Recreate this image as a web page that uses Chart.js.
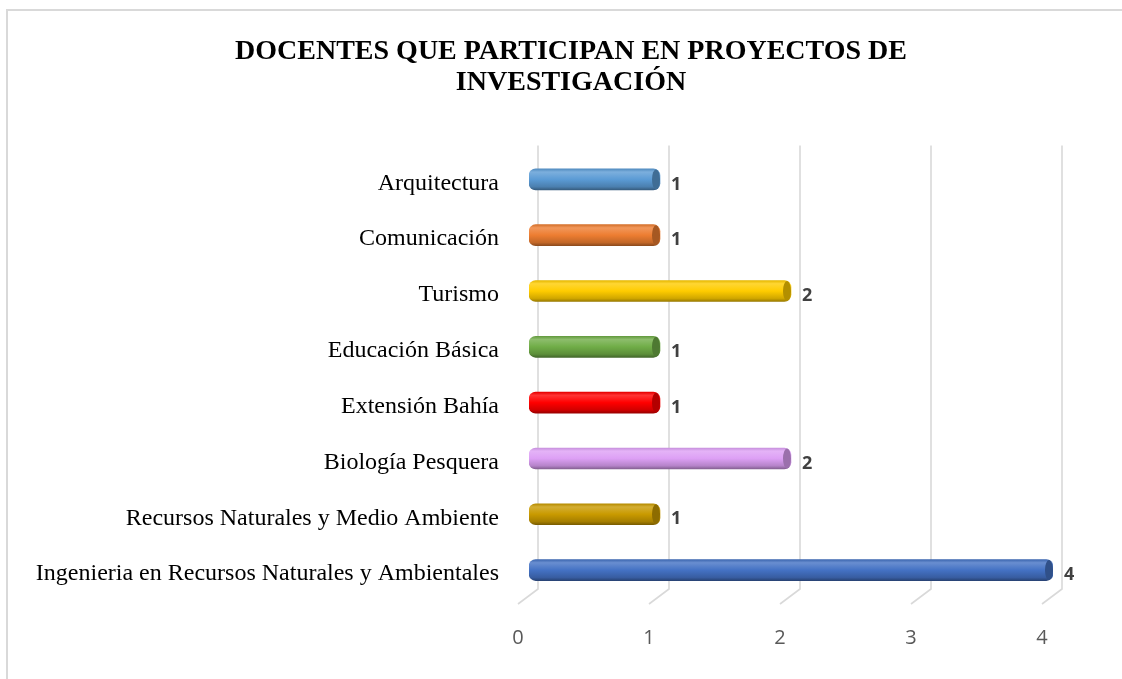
<!DOCTYPE html>
<html>
<head>
<meta charset="utf-8">
<script src="https://cdn.jsdelivr.net/npm/chart.js@4.4.0/dist/chart.umd.min.js"></script>
<style>
  html, body { margin: 0; padding: 0; background: #fff; overflow: hidden; }
  #frame { position: absolute; left: 6px; top: 9px; width: 1140px; height: 700px;
           border-top: 2px solid #d9d9d9; border-left: 2px solid #d9d9d9; }
  #wrap { position: absolute; left: 0; top: 0; width: 1122px; height: 679px; }
</style>
</head>
<body>
<div id="frame"></div>
<div id="wrap"><canvas id="chart"></canvas></div>
<script>
var titleLines = ['DOCENTES QUE PARTICIPAN EN PROYECTOS DE', 'INVESTIGACIÓN'];
var categories = [
  'Arquitectura',
  'Comunicación',
  'Turismo',
  'Educación Básica',
  'Extensión Bahía',
  'Biología Pesquera',
  'Recursos Naturales y Medio Ambiente',
  'Ingenieria en Recursos Naturales y Ambientales'
];
var values = [1, 1, 2, 1, 1, 2, 1, 4];
var barColors = ['#5B9BD5', '#ED7D31', '#FFCC00', '#70AD47', '#FF0000', '#DDA0F5', '#C99A00', '#4472C4'];
var xTicks = [0, 1, 2, 3, 4];

// mix a hex colour towards white (amt > 0) or black (amt < 0)
function shade(hex, amt) {
  var n = parseInt(hex.slice(1), 16);
  var r = n >> 16, g = (n >> 8) & 255, b = n & 255;
  var t = amt < 0 ? 0 : 255, p = Math.abs(amt);
  r = Math.round(r + (t - r) * p);
  g = Math.round(g + (t - g) * p);
  b = Math.round(b + (t - b) * p);
  return 'rgb(' + r + ',' + g + ',' + b + ')';
}

var BAR_H = 21;

function barFill(ctx) {
  var chart = ctx.chart;
  var base = barColors[ctx.dataIndex];
  if (!chart.chartArea) return base;
  var y = chart.scales.y.getPixelForValue(ctx.dataIndex);
  var g = chart.ctx.createLinearGradient(0, y - BAR_H / 2, 0, y + BAR_H / 2);
  g.addColorStop(0, shade(base, -0.1));
  g.addColorStop(0.15, shade(base, 0.2));
  g.addColorStop(0.5, base);
  g.addColorStop(0.85, shade(base, -0.18));
  g.addColorStop(1, shade(base, -0.4));
  return g;
}

// 3D-like gridlines: back wall lines that bend toward the front ticks
var grid3d = {
  id: 'grid3d',
  beforeDatasetsDraw: function(chart) {
    var x = chart.scales.x, area = chart.chartArea, c = chart.ctx;
    c.save();
    c.strokeStyle = '#d9d9d9';
    c.lineWidth = 1.6;
    xTicks.forEach(function(v) {
      var px = x.getPixelForValue(v);
      c.beginPath();
      c.moveTo(px + 9, area.top - 6);
      c.lineTo(px + 9, area.bottom - 9);
      c.lineTo(px - 11, area.bottom + 6);
      c.stroke();
    });
    c.restore();
  }
};

// end caps of the cylinders and the value labels
var caps = {
  id: 'caps',
  afterDatasetsDraw: function(chart) {
    var c = chart.ctx;
    var meta = chart.getDatasetMeta(0);
    c.save();
    meta.data.forEach(function(el, i) {
      var base = barColors[i];
      c.beginPath();
      c.ellipse(el.x - 4, el.y, 4, BAR_H / 2 - 0.5, 0, 0, Math.PI * 2);
      c.fillStyle = shade(base, -0.3);
      c.fill();
      c.font = "bold 18px 'Open Sans'";
      c.fillStyle = '#404040';
      c.textAlign = 'left';
      c.textBaseline = 'middle';
      c.fillText(String(values[i]), el.x + 11, el.y + 5);
    });
    c.restore();
  }
};

new Chart(document.getElementById('chart'), {
  type: 'bar',
  data: {
    labels: categories,
    datasets: [{
      data: values,
      backgroundColor: barFill,
      borderWidth: 0,
      borderRadius: 7,
      borderSkipped: false,
      barThickness: BAR_H
    }]
  },
  options: {
    indexAxis: 'y',
    responsive: true,
    maintainAspectRatio: false,
    animation: false,
    layout: { padding: { top: 12, left: 30, right: 10, bottom: 0 } },
    plugins: {
      legend: { display: false },
      tooltip: { enabled: false },
      title: {
        display: true,
        text: titleLines,
        color: '#000',
        font: { family: '"Liberation Serif", "Times New Roman", serif', size: 28, weight: 'bold', lineHeight: 1.08 },
        padding: { top: 25, bottom: 54 }
      }
    },
    scales: {
      x: {
        min: 0,
        max: 4,
        grid: { display: false },
        border: { display: false },
        ticks: {
          stepSize: 1,
          labelOffset: -11,
          padding: 20,
          color: '#595959',
          font: { family: '"Open Sans", sans-serif', size: 20 }
        },
        afterFit: function(s) { s.height = 81; }
      },
      y: {
        grid: { display: false },
        border: { display: false },
        ticks: {
          labelOffset: 4,
          padding: 22,
          color: '#000',
          font: { family: '"Liberation Serif", "Times New Roman", serif', size: 24 }
        },
        afterFit: function(s) { s.width = 499; }
      },
      // empty right-hand axis that only reserves space, so the title stays centred
      yRight: {
        type: 'category',
        position: 'right',
        labels: categories,
        grid: { display: false },
        border: { display: false },
        ticks: { display: false },
        afterFit: function(s) { s.width = 59; }
      }
    }
  },
  plugins: [grid3d, caps]
});
</script>
</body>
</html>
